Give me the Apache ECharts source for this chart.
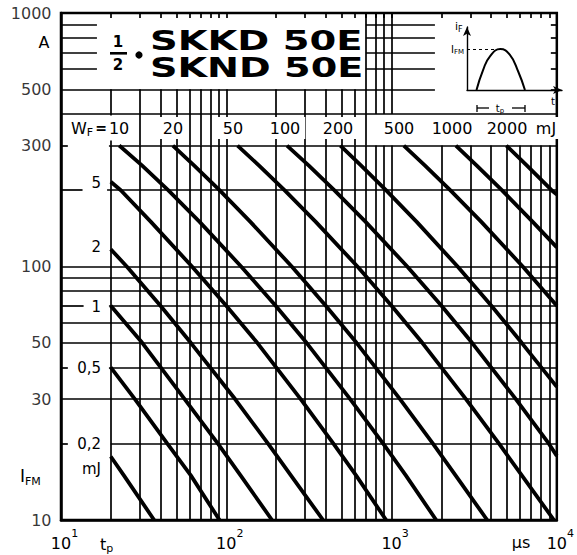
<!DOCTYPE html>
<html><head><meta charset="utf-8">
<script src="https://cdn.jsdelivr.net/npm/echarts@6/dist/echarts.min.js"></script>
<style>html,body{margin:0;padding:0;background:#fff}#c{width:577px;height:555px}</style>
</head><body><div id="c"></div>
<script>
// ---------- data (t in µs, IFM in A) ----------
const wf02   = [[20,17.8],[24,15],[36.6,10]];
const wf05   = [[20,40],[28,30],[44,20],[61,15],[91,10]];
const wf1    = [[20,70],[31,50],[56,30],[89,20],[122,15],[189,10]];
const wf2    = [[20,117],[25,100],[40,70],[61,50],[113,30],[179,20],[246,15],[385,10]];
const wf5    = [[20,216],[23,200],[35,150],[62,100],[100,70],[154,50],[282,30],[445,20],[610,15],[927,10]];
const wf10   = [[22.5,300],[31,250],[44.5,200],[69,150],[123,100],[199,70],[306,50],[562,30],[890,20],[1220,15],[1862,10]];
const wf20   = [[47.5,300],[64,250],[91,200],[140,150],[249,100],[400,70],[614,50],[1125,30],[1780,20],[2440,15],[3790,10]];
const wf50   = [[117,300],[158,250],[225,200],[348,150],[622,100],[1000,70],[1535,50],[2820,30],[4470,20],[6140,15],[9600,10]];
const wf100  = [[233,300],[316,250],[450,200],[697,150],[1244,100],[2005,70],[3070,50],[5650,30],[8950,20],[10000,17.9]];
const wf200  = [[490,300],[655,250],[925,200],[1420,150],[2510,100],[4020,70],[6130,50],[10000,33.5]];
const wf500  = [[1186,300],[1595,250],[2264,200],[3494,150],[6219,100],[10000,70]];
const wf1000 = [[2450,300],[3280,250],[4650,200],[7150,150],[10000,119]];
const wf2000 = [[4950,300],[6600,250],[9300,200],[10000,192]];
const curveNames = ['0,2','0,5','1','2','5','10','20','50','100','200','500','1000','2000'];
const curveData  = [wf02,wf05,wf1,wf2,wf5,wf10,wf20,wf50,wf100,wf200,wf500,wf1000,wf2000];

const yTickLabels = [10,30,50,100,300,500,1000];
const xGridValues = [20,30,40,50,60,70,80,90,100,200,300,400,500,600,700,800,900,1000,2000,3000,4000,5000,6000,7000,8000,9000];
const yGridLow  = [20,30,40,50,60,70,80,90,100,200,300];
const yGridHigh = [600,700,800,900];
const bandLabels = ['20','50','100','200','500','1000','2000'];
const leftLabels = ['5','2','1','0,5','0,2'];
// inset pulse (fraction of axis)
const insetT = [0.10,0.17,0.24,0.35,0.45,0.54,0.61];
const insetI = [0,0.32,0.53,0.65,0.56,0.29,0];

// ---------- grid line segments ----------
const segs = [];
function seg(x1,y1,x2,y2){ segs.push({coords:[[x1,y1],[x2,y2]]}); }
xGridValues.forEach(v => {
  seg(v,10,v,300);
  if (v <= 700) seg(v,300,v,400);
  if (v >= 700 && v <= 1000) seg(v,400,v,1000);
  else if (v < 700) seg(v,400,v,500);
  seg(v,1000,v,955);
});
const gaps = {300:[11,19.5],200:[13.5,19],70:[13.7,19.5],40:[11,19.5],20:[11,20]};
yGridLow.forEach(v => {
  if (gaps[v]) { seg(10,v,gaps[v][0],v); seg(gaps[v][1],v,10000,v); }
  else seg(10,v,10000,v);
});
seg(10,400,10000,400);
seg(10,500,1830,500); seg(9200,500,10000,500);
yGridHigh.forEach(v => { seg(10,v,16.5,v); seg(700,v,1830,v); seg(9200,v,10000,v); });

// ---------- layout helpers ----------
const FF = '"DejaVu Sans", sans-serif';
function T(x,y,text,o){
  return {type:'text', x:x, y:y, z:100, silent:true,
    style:Object.assign({text:text, fill:'#000', font:'16px '+FF, fontSize:16, fontFamily:FF,
      align:'center', verticalAlign:'middle', textAlign:'center', textVerticalAlign:'middle'}, o||{})};
}
const bandX = [173,233,285,338,399,452,507];
const leftY = [183,247,307,368,444];

const graphics = [];
graphics.push(T(44,42,'A'));
// band labels
graphics.push(T(68,128,'{w|W}{f|F}{e|=}{n|10}',{align:'left',textAlign:'left',backgroundColor:'#fff',padding:[3,4,3,3],
  rich:{w:{fontSize:16,fontFamily:FF,fill:'#000'},f:{fontSize:11,fontFamily:FF,fill:'#000',verticalAlign:'bottom',padding:[8,0,0,0]},
        e:{fontSize:14,fontWeight:'bold',fontFamily:FF,fill:'#000',padding:[0,2,0,2]},n:{fontSize:16,fontFamily:FF,fill:'#000'}}}));
bandLabels.forEach((s,i)=>graphics.push(T(bandX[i],128,s,{backgroundColor:'#fff',padding:[3,5,3,5]})));
graphics.push(T(546,128,'mJ',{backgroundColor:'#fff',padding:[3,3,3,3]}));
// left energy labels
leftLabels.forEach((s,i)=>graphics.push(T(101,leftY[i],s,{align:'right',textAlign:'right',font:'15px '+FF,fontSize:15})));
graphics.push(T(101,469,'mJ',{align:'right',textAlign:'right',font:'15px '+FF,fontSize:15}));
graphics.push(T(20,476,'{a|I}{b|FM}',{align:'left',textAlign:'left',rich:{a:{fontSize:17,fontFamily:FF,fill:'#000'},b:{fontSize:11,fontFamily:FF,fill:'#000',verticalAlign:'bottom',padding:[10,0,0,0]}}}));
graphics.push(T(100,544,'{a|t}{b|p}',{align:'left',textAlign:'left',rich:{a:{fontSize:16,fontFamily:FF,fill:'#000'},b:{fontSize:11,fontFamily:FF,fill:'#000',verticalAlign:'bottom',padding:[9,0,0,0]}}}));
graphics.push(T(521,542,'µs'));
// title
graphics.push(T(118,42,'1',{font:'bold 15px '+FF,fontSize:15,fontWeight:'bold'}));
graphics.push({type:'rect',z:100,silent:true,shape:{x:110,y:52,width:17,height:2.6},style:{fill:'#000'}});
graphics.push(T(118,65,'2',{font:'bold 15px '+FF,fontSize:15,fontWeight:'bold'}));
graphics.push({type:'circle',z:100,silent:true,shape:{cx:139,cy:55,r:3.6},style:{fill:'#000'}});
graphics.push({type:'text',x:150,y:41,scaleX:1.48,z:100,silent:true,style:{text:'SKKD 50E',fill:'#000',font:'bold 26px '+FF,fontSize:26,fontWeight:'bold',fontFamily:FF,align:'left',verticalAlign:'middle',textAlign:'left',textVerticalAlign:'middle'}});
graphics.push({type:'text',x:150,y:68,scaleX:1.47,z:100,silent:true,style:{text:'SKND 50E',fill:'#000',font:'bold 26px '+FF,fontSize:26,fontWeight:'bold',fontFamily:FF,align:'left',verticalAlign:'middle',textAlign:'left',textVerticalAlign:'middle'}});
// inset texts and tp dimension
graphics.push(T(455,26,'{a|i}{b|F}',{align:'left',textAlign:'left',rich:{a:{fontSize:11,fontFamily:FF,fill:'#000'},b:{fontSize:8,fontFamily:FF,fill:'#000',verticalAlign:'bottom',padding:[6,0,0,0]}}}));
graphics.push(T(464,49,'{a|I}{b|FM}',{align:'right',textAlign:'right',rich:{a:{fontSize:10,fontFamily:FF,fill:'#000'},b:{fontSize:7,fontFamily:FF,fill:'#000',verticalAlign:'bottom',padding:[5,0,0,0]}}}));
graphics.push(T(553,101,'t',{font:'10px '+FF,fontSize:10}));
graphics.push(T(500,108,'{a|t}{b|p}',{rich:{a:{fontSize:10,fontFamily:FF,fill:'#000'},b:{fontSize:7,fontFamily:FF,fill:'#000',verticalAlign:'bottom',padding:[5,0,0,0]}}}));
const LS = {stroke:'#000',lineWidth:1.3};
graphics.push({type:'line',z:100,silent:true,shape:{x1:477,y1:108,x2:489,y2:108},style:LS});
graphics.push({type:'line',z:100,silent:true,shape:{x1:477,y1:105,x2:477,y2:112},style:LS});
graphics.push({type:'line',z:100,silent:true,shape:{x1:512,y1:108,x2:525,y2:108},style:LS});
graphics.push({type:'line',z:100,silent:true,shape:{x1:525,y1:105,x2:525,y2:112},style:LS});

// ---------- option ----------
const series = [];
series.push({type:'lines', coordinateSystem:'cartesian2d', xAxisIndex:0, yAxisIndex:0, data:segs, silent:true, z:1,
  lineStyle:{color:'#000', width:1.7, opacity:1}, clip:false});
curveData.forEach((d,i)=>series.push({type:'line', name:curveNames[i], xAxisIndex:0, yAxisIndex:0, data:d, symbol:'none', showSymbol:false,
  silent:true, z:3, lineStyle:{color:'#000', width:3.8, cap:'butt'}}));
series.push({type:'scatter', xAxisIndex:0, yAxisIndex:0, data:yTickLabels.map(v=>[10,v]), symbolSize:1, itemStyle:{color:'rgba(0,0,0,0)'},
  clip:false, silent:true, z:5,
  label:{show:true, position:'left', distance:9, formatter:p=>String(p.value[1]), color:'#000', fontSize:16, fontFamily:FF}});
const pk = Math.max.apply(null, insetI), pkT = insetT[insetI.indexOf(pk)];
series.push({type:'line', xAxisIndex:1, yAxisIndex:1, data:insetT.map((t,i)=>[t,insetI[i]]), smooth:0.5, symbol:'none', silent:true,
  lineStyle:{color:'#000', width:2},
  markLine:{silent:true, symbol:'none', label:{show:false}, lineStyle:{type:[3,3], color:'#000', width:1},
    data:[[{coord:[0,pk]},{coord:[pkT,pk]}]]}});

const option = {
  animation:false,
  backgroundColor:'#fff',
  grid:[
    {left:61, top:13, width:505, height:507, show:true, borderColor:'#000', borderWidth:2.5, backgroundColor:'transparent'},
    {left:467, top:27, width:95, height:63, show:false}
  ],
  xAxis:[
    {type:'log', logBase:10, min:10, max:10000, gridIndex:0,
      axisLine:{show:true, lineStyle:{color:'#000', width:2.5}}, axisTick:{show:false}, splitLine:{show:false},
      axisLabel:{show:true, margin:8, formatter:v=>'{b|10}{s|'+Math.round(Math.log10(v))+'}',
        rich:{b:{fontSize:16, fontFamily:FF, color:'#000', padding:[7,0,0,7]}, s:{fontSize:11, fontFamily:FF, color:'#000', verticalAlign:'top'}}}},
    {type:'value', gridIndex:1, min:0, max:1,
      axisLine:{show:true, onZero:true, symbol:['none','arrow'], symbolSize:[6,9], lineStyle:{color:'#000', width:1.4}},
      axisTick:{show:false}, axisLabel:{show:false}, splitLine:{show:false}}
  ],
  yAxis:[
    {type:'log', logBase:10, min:10, max:1000, gridIndex:0,
      axisLine:{show:true, lineStyle:{color:'#000', width:2.5}}, axisTick:{show:false}, splitLine:{show:false}, axisLabel:{show:false}},
    {type:'value', gridIndex:1, min:0, max:1,
      axisLine:{show:true, onZero:true, symbol:['none','arrow'], symbolSize:[6,9], lineStyle:{color:'#000', width:1.4}},
      axisTick:{show:false}, axisLabel:{show:false}, splitLine:{show:false}}
  ],
  graphic:graphics,
  series:series
};
const chart = echarts.init(document.getElementById('c'), null, {renderer:'svg'});
chart.setOption(option);
</script></body></html>
